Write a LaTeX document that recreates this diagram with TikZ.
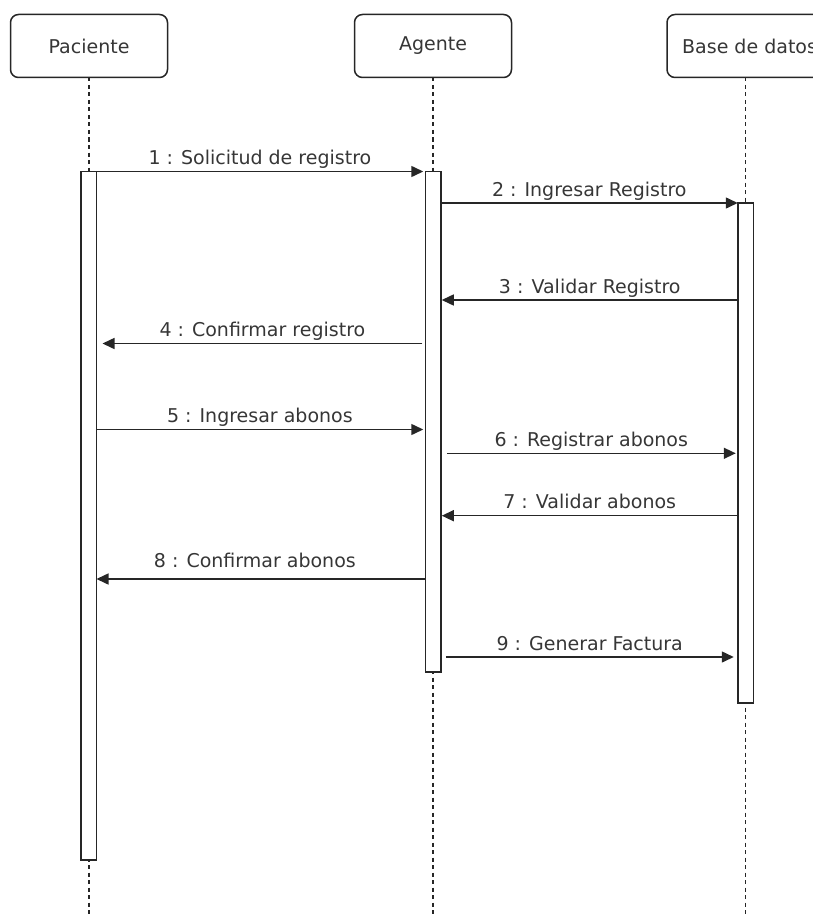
\documentclass[tikz,border=0pt]{standalone}
\usepackage{fontspec}
\setmainfont{DejaVu Sans}
\usetikzlibrary{arrows.meta}
\definecolor{ink}{HTML}{262626}
\definecolor{txt}{HTML}{363636}
\tikzset{
  head/.style={draw=ink, line width=1.5pt, rounded corners=8pt, fill=white,
    minimum width=157pt, minimum height=63pt, inner sep=0pt, outer sep=0pt},
  headtext/.style={text=txt, font=\fontsize{19}{22}\selectfont, inner sep=0pt},
  life/.style={draw=ink, line width=1.4pt, dash pattern=on 4pt off 3.5pt},
  actbar/.style={draw=ink, line width=1.5pt, fill=white, minimum width=15.5pt,
    inner sep=0pt, outer sep=0pt, anchor=north},
  msg/.style={draw=ink, line width=1.5pt, -{Triangle[length=12pt,width=11pt]}},
  lbl/.style={text=txt, font=\fontsize{19}{22}\selectfont, inner sep=0pt,
    anchor=base, yshift=7pt}
}
\begin{document}
\begin{tikzpicture}[x=1pt,y=-1pt]
  \useasboundingbox (0,0) rectangle (813,915);
  \clip (0,0) rectangle (813,915);
  \coordinate (bottom) at (0,915);

  % participants
  \node[head] (pac) at (89,46) {};
  \node[headtext] at (pac.center) {Paciente};
  \node[head] (age) at (433,46) {};
  \node[headtext] at (age.center) {Agente};
  \node[head] (bd) at (745.5,46) {};
  \node[headtext, anchor=west] at (682,46) {Base de datos};

  % lifelines
  \draw[life] (pac.south) -- (pac.south |- bottom);
  \draw[life] (age.south) -- (age.south |- bottom);
  \draw[life] (bd.south) -- (bd.south |- bottom);

  % activation bars
  \node[actbar, minimum height=688.5pt] (pbar) at (88.75,171.5) {};
  \node[actbar, minimum height=500.5pt] (abar) at (433,171.5) {};
  \node[actbar, minimum height=500pt] (bbar) at (745.5,203) {};

  % message levels
  \coordinate (m1) at (0,171.5);
  \coordinate (m2) at (0,203);
  \coordinate (m3) at (0,300);
  \coordinate (m4) at (0,343.5);
  \coordinate (m5) at (0,429.5);
  \coordinate (m6) at (0,453.3);
  \coordinate (m7) at (0,515.7);
  \coordinate (m8) at (0,579);
  \coordinate (m9) at (0,657);

  % messages
  \draw[msg] (pbar.east |- m1) -- ([xshift=-2pt]abar.west |- m1)
    node[lbl, midway] {1 : Solicitud de registro};
  \draw[msg] (abar.east |- m2) -- (bbar.west |- m2)
    node[lbl, midway] {2 : Ingresar Registro};
  \draw[msg] (bbar.west |- m3) -- ([xshift=1pt]abar.east |- m3)
    node[lbl, midway] {3 : Validar Registro};
  \draw[msg] ([xshift=-3pt]abar.west |- m4) -- ([xshift=6pt]pbar.east |- m4)
    node[lbl, midway] {4 : Confirmar registro};
  \draw[msg] (pbar.east |- m5) -- ([xshift=-2pt]abar.west |- m5)
    node[lbl, midway] {5 : Ingresar abonos};
  \draw[msg] ([xshift=6pt]abar.east |- m6) -- ([xshift=-2pt]bbar.west |- m6)
    node[lbl, midway] {6 : Registrar abonos};
  \draw[msg] (bbar.west |- m7) -- ([xshift=1pt]abar.east |- m7)
    node[lbl, midway] {7 : Validar abonos};
  \draw[msg] (abar.west |- m8) -- (pbar.east |- m8)
    node[lbl, midway, xshift=-6pt, yshift=5pt] {8 : Confirmar abonos};
  \draw[msg] ([xshift=5pt]abar.east |- m9) -- ([xshift=-4pt]bbar.west |- m9)
    node[lbl, midway] {9 : Generar Factura};
\end{tikzpicture}
\end{document}
